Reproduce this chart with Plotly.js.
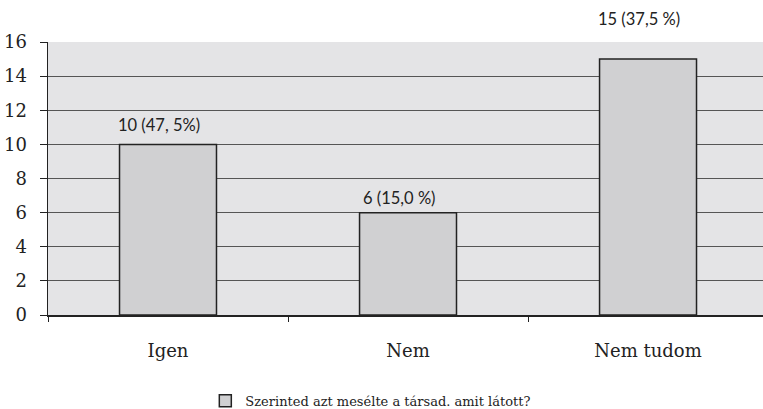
<!DOCTYPE html>
<html>
<head>
<meta charset="utf-8">
<script src="https://cdn.plot.ly/plotly-3.0.1.min.js"></script>
<style>html,body{margin:0;padding:0;background:#fff;}#chart{width:763px;height:409px;}</style>
</head>
<body>
<div id="chart"></div>
<script>
const categories = ["Igen", "Nem", "Nem tudom"];
const counts = [10, 6, 15];
const barLabels = ["10 (47, 5%)", "6 (15,0 %)", "15 (37,5 %)"];
const seriesName = "Szerinted azt mesélte a társad. amit látott?";
const yTicks = [0, 2, 4, 6, 8, 10, 12, 14, 16];

const labelShift = [7, 3, 28];

const trace = {
  type: "bar",
  x: categories,
  y: counts,
  name: seriesName,
  width: 0.404,
  marker: {color: "#d0d0d2", line: {color: "#222222", width: 1.5}},
  showlegend: true,
  hoverinfo: "none"
};

const annotations = categories.map((c, i) => ({
  x: c, y: counts[i], xref: "x", yref: "y",
  text: barLabels[i], showarrow: false,
  yanchor: "bottom", xanchor: "center",
  xshift: -9, yshift: labelShift[i],
  font: {family: "Lato, sans-serif", size: 16.5, color: "#222"}
}));

const serif = "DejaVu Serif";

const layout = {
  width: 763, height: 409,
  margin: {l: 48, r: 0, t: 42, b: 94, pad: 0},
  paper_bgcolor: "#ffffff",
  plot_bgcolor: "#e4e4e6",
  font: {family: serif, size: 16, color: "#222"},
  xaxis: {
    type: "category",
    range: [-0.5, 2.479],
    showgrid: false,
    showline: true, linecolor: "#222", linewidth: 1.5,
    ticks: "outside", tickson: "boundaries", ticklen: 5, tickcolor: "#222", tickwidth: 1,
    ticklabelstandoff: 19,
    tickfont: {family: serif, size: 18, color: "#222"},
    fixedrange: true
  },
  yaxis: {
    range: [0, 16],
    tickvals: yTicks,
    showgrid: true, gridcolor: "#555", gridwidth: 1,
    zeroline: false,
    showline: true, linecolor: "#222", linewidth: 1.5,
    ticks: "outside", ticklen: 7, tickcolor: "#222", tickwidth: 1,
    ticklabelstandoff: 9,
    tickfont: {family: serif, size: 18, color: "#222"},
    fixedrange: true
  },
  showlegend: true,
  legend: {
    orientation: "h",
    xref: "container", yref: "container",
    x: 0.486, xanchor: "center",
    y: 0.02, yanchor: "middle",
    font: {family: serif, size: 13, color: "#222"},
    itemwidth: 30
  },
  annotations: annotations,
  bargap: 0.596
};

Plotly.newPlot("chart", [trace], layout, {staticPlot: true, displayModeBar: false});
</script>
</body>
</html>
